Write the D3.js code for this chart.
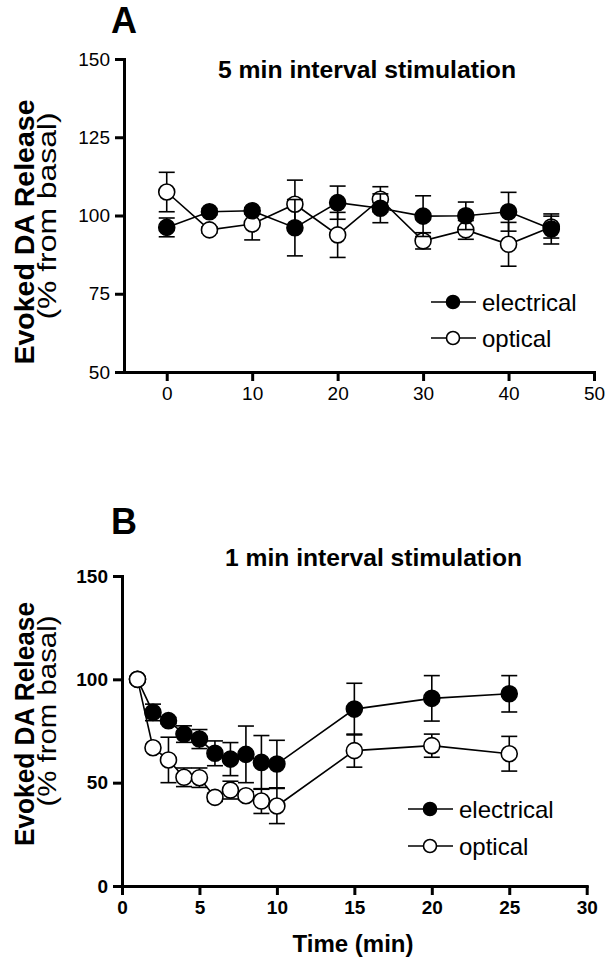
<!DOCTYPE html>
<html><head><meta charset="utf-8">
<script src="https://cdn.jsdelivr.net/npm/d3@7"></script>
<style>
html,body{margin:0;padding:0;background:#fff;}
svg{display:block;font-family:Arial,"Liberation Sans",Helvetica,sans-serif;}
</style></head>
<body>
<svg id="chart" width="615" height="969"></svg>
<script>
// ---------- Panel A data (5 min interval) ----------
const timeA = [0, 5, 10, 15, 20, 25, 30, 35, 40, 45];
const elecA = [96.2, 101.2, 101.5, 96.1, 104.1, 102.3, 99.8, 99.9, 101.2, 95.7];
const elecAErr = [3.0, 1.0, 1.0, 9.0, 5.3, 4.6, 6.5, 4.4, 6.2, 4.8];
const optA = [107.5, 95.4, 97.3, 103.6, 93.8, 105.2, 91.9, 95.4, 90.8, 96.3];
const optAErr = [6.3, 1.0, 5.1, 7.7, 7.2, 4.0, 2.6, 3.0, 7.0, 3.5];
const xTicksA = [0, 10, 20, 30, 40, 50];
const yTicksA = [50, 75, 100, 125, 150];

// ---------- Panel B data (1 min interval) ----------
const timeB = [1, 2, 3, 4, 5, 6, 7, 8, 9, 10, 15, 20, 25];
const elecB = [100, 84.0, 80.0, 73.5, 71.1, 64.2, 61.4, 63.7, 59.8, 59.0, 85.6, 90.8, 93.0];
const elecBErr = [0, 4.0, 1.5, 4.0, 4.6, 6.0, 8.0, 13.7, 13.0, 11.5, 12.5, 11.0, 8.8];
const optB = [100, 66.9, 61.0, 52.6, 52.4, 42.9, 46.4, 43.7, 41.1, 38.7, 65.5, 67.9, 64.0];
const optBErr = [0, 1.5, 11.0, 4.5, 4.7, 2.0, 4.3, 2.0, 6.0, 8.5, 8.0, 5.6, 8.4];
const xTicksB = [0, 5, 10, 15, 20, 25, 30];
const yTicksB = [0, 50, 100, 150];

const seriesNames = ["electrical", "optical"];

const svg = d3.select("#chart");

function styleAxis(g, fontSize, weight) {
  g.select(".domain").attr("stroke", "#000").attr("stroke-width", 3).attr("stroke-linecap", "square");
  g.selectAll(".tick line").attr("stroke", "#000").attr("stroke-width", 3);
  g.selectAll(".tick text").attr("fill", "#000").attr("font-size", fontSize).attr("font-weight", weight)
    .attr("font-family", "Arial, 'Liberation Sans', sans-serif");
}

function drawSeries(g, x, y, xs, vals, errs, filled, r) {
  const pts = xs.map((t, i) => ({t, v: vals[i], e: errs[i]}));
  const line = d3.line().x(d => x(d.t)).y(d => y(d.v));
  g.append("path").datum(pts).attr("d", line).attr("fill", "none").attr("stroke", "#000").attr("stroke-width", 1.6);
  const eb = g.append("g");
  pts.filter(d => d.e > 0).forEach(d => {
    const cx = x(d.t), y1 = y(d.v - d.e), y2 = y(d.v + d.e);
    eb.append("line").attr("x1", cx).attr("x2", cx).attr("y1", y1).attr("y2", y2).attr("stroke", "#000").attr("stroke-width", 1.6);
    [y1, y2].forEach(yy => eb.append("line").attr("x1", cx - 8).attr("x2", cx + 8).attr("y1", yy).attr("y2", yy).attr("stroke", "#000").attr("stroke-width", 1.6));
  });
  g.append("g").selectAll("circle").data(pts).join("circle")
    .attr("cx", d => x(d.t)).attr("cy", d => y(d.v)).attr("r", r)
    .attr("fill", filled ? "#000" : "#fff").attr("stroke", "#000").attr("stroke-width", 1.6);
}

function legend(g, lx, ly, gap) {
  seriesNames.forEach((name, i) => {
    const yy = ly + i * gap;
    g.append("line").attr("x1", lx - 22).attr("x2", lx + 23).attr("y1", yy).attr("y2", yy).attr("stroke", "#000").attr("stroke-width", 1.6);
    g.append("circle").attr("cx", lx).attr("cy", yy).attr("r", 6.5)
      .attr("fill", i === 0 ? "#000" : "#fff").attr("stroke", "#000").attr("stroke-width", 1.6);
    g.append("text").attr("x", lx + 29).attr("y", yy + 8.5).attr("font-size", 24).text(name);
  });
}

function yLabel(g, c1, len1, c2, len2) {
  g.append("text").attr("transform", `translate(34,${c1}) rotate(-90)`).attr("text-anchor", "middle")
    .attr("font-size", 28).attr("font-weight", "bold")
    .attr("textLength", len1).attr("lengthAdjust", "spacingAndGlyphs").text("Evoked DA Release");
  g.append("text").attr("transform", `translate(56,${c2}) rotate(-90)`).attr("text-anchor", "middle")
    .attr("font-size", 25)
    .attr("textLength", len2).attr("lengthAdjust", "spacingAndGlyphs").text("(% from basal)");
}

// ---------- Panel A ----------
const xA = d3.scaleLinear().domain([-5, 50]).range([124, 594]);
const yA = d3.scaleLinear().domain([50, 150]).range([372, 59]);
const gA = svg.append("g");
gA.append("g").attr("transform", "translate(0,372)")
  .call(d3.axisBottom(xA).tickValues(xTicksA).tickSize(9).tickSizeOuter(0).tickPadding(6))
  .call(g => styleAxis(g, 19, "normal"));
gA.append("g").attr("transform", "translate(124,0)")
  .call(d3.axisLeft(yA).tickValues(yTicksA).tickSize(9).tickSizeOuter(0).tickPadding(5))
  .call(g => styleAxis(g, 19, "normal"));
drawSeries(gA, xA, yA, timeA, optA, optAErr, false, 8);
drawSeries(gA, xA, yA, timeA, elecA, elecAErr, true, 8);
gA.append("text").attr("x", 111).attr("y", 33).attr("font-size", 36).attr("font-weight", "bold").text("A");
gA.append("text").attr("x", 218).attr("y", 78).attr("font-size", 24.5).attr("font-weight", "bold")
  .attr("textLength", 298).attr("lengthAdjust", "spacingAndGlyphs").text("5 min interval stimulation");
legend(gA, 453, 302, 36);
yLabel(gA, 232, 265, 216, 207);

// ---------- Panel B ----------
const xB = d3.scaleLinear().domain([0, 30]).range([122, 586.7]);
const yB = d3.scaleLinear().domain([0, 150]).range([886, 576]);
const gB = svg.append("g");
gB.append("g").attr("transform", "translate(0,886)")
  .call(d3.axisBottom(xB).tickValues(xTicksB).tickSize(9).tickSizeOuter(0).tickPadding(6))
  .call(g => styleAxis(g, 19, "bold"));
gB.append("g").attr("transform", "translate(122,0)")
  .call(d3.axisLeft(yB).tickValues(yTicksB).tickSize(9).tickSizeOuter(0).tickPadding(5))
  .call(g => styleAxis(g, 19, "bold"));
drawSeries(gB, xB, yB, timeB, elecB, elecBErr, true, 8);
drawSeries(gB, xB, yB, timeB, optB, optBErr, false, 8);
gB.append("text").attr("x", 111).attr("y", 534).attr("font-size", 36).attr("font-weight", "bold").text("B");
gB.append("text").attr("x", 225).attr("y", 566).attr("font-size", 24.5).attr("font-weight", "bold")
  .attr("textLength", 297).attr("lengthAdjust", "spacingAndGlyphs").text("1 min interval stimulation");
gB.append("text").attr("x", 353).attr("y", 952).attr("text-anchor", "middle").attr("font-size", 24).attr("font-weight", "bold").text("Time (min)");
legend(gB, 430, 809, 37);
yLabel(gB, 724, 244, 711, 191);
</script>
</body></html>
